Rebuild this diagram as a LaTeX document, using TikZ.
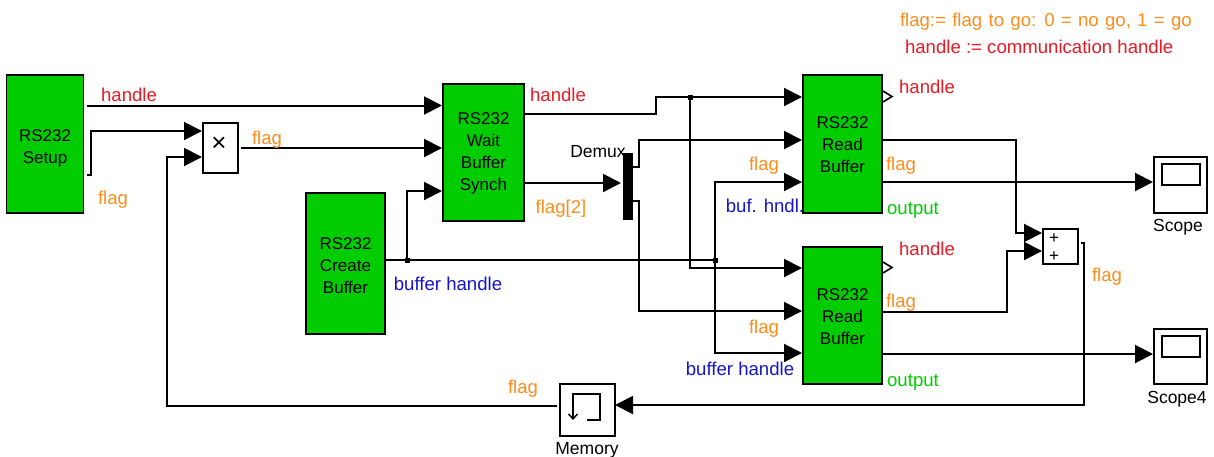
\documentclass[tikz,border=0pt]{standalone}
\usepackage{fontspec}
\setmainfont{Liberation Sans}
\usetikzlibrary{arrows.meta,calc}
\definecolor{simgreen}{RGB}{0,204,0}
\definecolor{flagorange}{RGB}{255,140,26}
\definecolor{handlered}{RGB}{235,25,35}
\definecolor{bufblue}{RGB}{20,20,205}
\newcommand{\firstline}[1]{\rule{0pt}{#1}}

\begin{document}
\begin{tikzpicture}[x=1pt,y=-1pt]
\tikzstyle{lab}=[inner sep=0pt,outer sep=0pt,font=\fontsize{17.5}{22}\selectfont]
\tikzstyle{collab}=[lab,font=\fontsize{18.6}{22}\selectfont]
\tikzstyle{flaglab}=[collab,text=flagorange]
\tikzstyle{handlelab}=[collab,text=handlered]
\tikzstyle{buflab}=[collab,text=bufblue]
\tikzstyle{outlab}=[collab,text=simgreen]
\tikzstyle{rsblock}=[lab,font=\fontsize{17}{22}\selectfont,draw,line width=1.6pt,fill=simgreen,align=center,minimum width=79pt]
\tikzstyle{simbox}=[draw,line width=1.6pt,fill=white,inner sep=0pt,outer sep=0pt]
\tikzstyle{joint}=[fill=black,inner sep=0pt,outer sep=0pt,minimum size=5pt]
\tikzstyle{line}=[line width=2pt]
\tikzstyle{wire}=[line,-{Triangle[length=18pt,width=18pt]}]
\useasboundingbox (0,0) rectangle (1214,456);

\node[rsblock,minimum width=77pt,minimum height=138pt] (setup) at (45,144) {\firstline{21pt}RS232\\Setup};
\node[rsblock,minimum width=81pt,minimum height=137pt] (wait) at (483.5,152.5) {\firstline{14pt}RS232\\Wait\\Buffer\\Synch};
\node[rsblock,minimum height=141pt] (create) at (345.5,263.5) {\firstline{17pt}RS232\\Create\\Buffer};
\node[rsblock,minimum height=138pt] (readone) at (842.5,144) {\firstline{14pt}RS232\\Read\\Buffer};
\node[rsblock,minimum height=137pt] (readtwo) at (842.5,315.5) {\firstline{15pt}RS232\\Read\\Buffer};

\node[simbox,minimum width=35pt,minimum height=50pt] (product) at (220.5,148) {};
\node[lab,font=\fontsize{26}{26}\selectfont] (times) at (219,144) {×};
\node[simbox,minimum width=35pt,minimum height=35pt] (sum) at (1060.5,246.5) {};
\node[lab,font=\fontsize{17}{17}\selectfont] (plusa) at (1054,239) {+};
\node[lab,font=\fontsize{17}{17}\selectfont] (plusb) at (1054,257) {+};
\node[fill=black,minimum width=10pt,minimum height=67pt,inner sep=0pt,outer sep=0pt] (demux) at (628,186.5) {};
\node[simbox,minimum width=55pt,minimum height=52pt] (memory) at (587.5,410) {};

\node[simbox,minimum width=53pt,minimum height=56pt] (scope) at (1180.5,185) {};
\node[simbox,minimum width=38pt,minimum height=21pt] (scopescreen) at (1181,174.5) {};
\node[simbox,minimum width=53pt,minimum height=55pt] (scopefour) at (1180.5,356.5) {};
\node[simbox,minimum width=38pt,minimum height=21pt] (scopefourscreen) at (1181,346.5) {};

\node[joint] (jointa) at (407,260) {};
\node[joint] (jointb) at (715,260) {};
\node[joint] (jointc) at (690,97) {};
\coordinate (feedback) at (167,157);

\draw[wire] ($(setup.north east)+(3,30.5)$) -- ($(wait.north west)+(-1,21.5)$);
\draw[wire] ($(setup.north east)+(3,100)$) -- ++(4,0) |- ($(product.north west)+(-1,8)$);
\draw[wire] ($(product.north east)+(3,25)$) -- ($(wait.north west)+(-1,64)$);
\draw[line] ($(create.north east)+(0,67)$) -- (jointa.center) -- (jointb.center);
\draw[wire] (jointa.center) |- ($(wait.north west)+(-1,107)$);
\draw[line] ($(wait.north east)+(0,30)$) -- ++(132,0) |- (jointc.center);
\draw[wire] (jointc.center) -- ($(readone.north west)+(-1,22)$);
\draw[wire] (jointc.center) |- ($(readtwo.north west)+(-1,21)$);
\draw[wire] ($(wait.north east)+(0,99)$) -- ($(demux.north west)+(-2,30)$);
\draw[wire] ($(demux.north east)+(0,14)$) -- ++(6,0) |- ($(readone.north west)+(-1,65)$);
\draw[wire] ($(demux.north east)+(0,48)$) -- ++(6,0) |- ($(readtwo.north west)+(-1,64)$);
\draw[wire] (jointb.center) |- ($(readone.north west)+(-1,107)$);
\draw[wire] (jointb.center) |- ($(readtwo.north west)+(-1,106)$);
\draw[wire] ($(readone.north east)+(0,65)$) -- ++(134,0) |- ($(sum.north west)+(-1,4)$);
\draw[wire] ($(readtwo.north east)+(0,65)$) -- ++(125,0) |- ($(sum.north west)+(-1,22)$);
\draw[wire] ($(readone.north east)+(0,107)$) -- ($(scope.north west)+(-1,25)$);
\draw[wire] ($(readtwo.north east)+(0,107)$) -- ($(scopefour.north west)+(-1,25)$);
\draw[wire] ($(sum.north east)+(3,14)$) -- ++(3,0) |- ($(memory.north east)+(0,21)$);
\draw[wire] ($(memory.north west)+(-3,22)$) -| (feedback) -- ($(product.north west)+(-1,34)$);

\draw[line width=1.6pt] ($(readone.north east)+(1,16)$) -- ++(9,5.5) -- ++(-9,5.5);
\draw[line width=1.6pt] ($(readtwo.north east)+(1,15)$) -- ++(9,5.5) -- ++(-9,5.5);
\draw[line width=1.4pt,-{Straight Barb[length=5pt,width=9pt]}] ($(memory.north west)+(27,36)$) -- ($(memory.north west)+(40,36)$) -- ($(memory.north west)+(40,10)$) -- ($(memory.north west)+(13,10)$) -- ($(memory.north west)+(13,36)$);

\node[flaglab,anchor=west] (goflag) at (900,22) {\spaceskip=6.3pt flag:= flag to go: 0 = no go, 1 = go};
\node[handlelab,anchor=west] (gohandle) at (905,47) {handle := communication handle};
\node[handlelab] (labhandlea) at (129,95) {handle};
\node[flaglab] (labflaga) at (113,200) {flag};
\node[flaglab] (labflagb) at (267,140) {flag};
\node[handlelab] (labhandleb) at (558,95) {handle};
\node[flaglab] (labflagtwo) at (561,209) {flag[2]};
\node[lab] (labdemux) at (598,152) {Demux};
\node[flaglab] (labflagc) at (764,166) {flag};
\node[buflab] (labbufa) at (765,206) {buf. hndl.};
\node[flaglab] (labflagd) at (764,329) {flag};
\node[buflab] (labbufb) at (740,369) {buffer handle};
\node[buflab] (labbufc) at (448,284) {buffer handle};
\node[handlelab] (labhandlec) at (927,87) {handle};
\node[flaglab] (labflage) at (901,166) {flag};
\node[outlab] (laboutputa) at (913,210) {output};
\node[handlelab] (labhandled) at (927,249) {handle};
\node[flaglab] (labflagf) at (901,303) {flag};
\node[outlab] (laboutputb) at (913,382) {output};
\node[flaglab] (labflagg) at (1107,277) {flag};
\node[flaglab] (labflagh) at (523,389) {flag};
\node[lab] (labmemory) at (587,450) {Memory};
\node[lab] (labscope) at (1178,227) {Scope};
\node[lab] (labscopefour) at (1177,399) {Scope4};
\end{tikzpicture}
\end{document}
